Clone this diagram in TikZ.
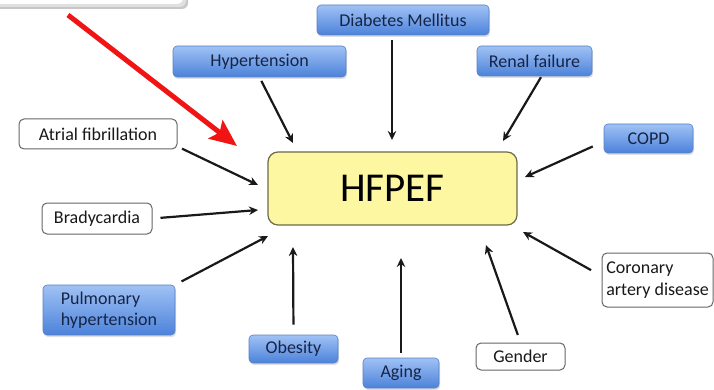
\documentclass[tikz,border=0pt]{standalone}
\usepackage{fontspec}
\setmainfont{Carlito}
\usepackage{tikz}
\usetikzlibrary{arrows.meta, shadows, calc}

\definecolor{boxblueT}{RGB}{160, 194, 245}
\definecolor{boxblueB}{RGB}{76, 130, 218}
\definecolor{boxblueD}{RGB}{88, 128, 196}
\definecolor{navytext}{RGB}{22, 36, 70}
\definecolor{hfyellow}{RGB}{252, 247, 160}
\definecolor{hfedge}{RGB}{110, 106, 70}
\definecolor{pointred}{RGB}{240, 20, 20}

\tikzset{
  riskblue/.style={rounded corners=4pt, draw=boxblueD, line width=0.6pt,
    top color=boxblueT, bottom color=boxblueB, text=navytext,
    drop shadow={opacity=0.25, shadow xshift=1pt, shadow yshift=-2pt},
    font=\fontsize{18}{21}\selectfont, inner sep=1pt},
  riskwhite/.style={rounded corners=5pt, draw=black!60, line width=1pt,
    fill=white, text=black!90, font=\fontsize{18}{21.5}\selectfont, inner sep=1pt},
  cause/.style={line width=2.2pt, black!90, -{Stealth[length=9pt, width=8.5pt]}},
  pointer/.style={line width=5pt, pointred, -{Stealth[length=27pt, width=23pt, inset=5pt]}}
}

\begin{document}
\begin{tikzpicture}[x=1pt, y=-1pt]
  \useasboundingbox (0,0) rectangle (714,390);

  % cut-off box at the top
  \fill[black!22, rounded corners=6pt] (-10,-30) rectangle (188,9);
  \fill[black!12, rounded corners=6pt] (-10,-30) rectangle (186,7);
  \fill[white, rounded corners=6pt] (-10,-30) rectangle (183,4);

  % centre
  \node[rounded corners=10pt, draw=hfedge, line width=1.2pt, fill=hfyellow,
        minimum width=249pt, minimum height=73pt,
        font=\fontsize{41}{45}\selectfont] (hfpef) at (392.5,188.5) {HFPEF};

  % blue risk factors
  \node[riskblue, minimum width=172pt, minimum height=30pt] (dm) at (403,20) {Diabetes Mellitus};
  \node[riskblue, minimum width=173pt, minimum height=31pt] (hyp) at (259.5,61.5) {Hypertension};
  \node[riskblue, minimum width=115pt, minimum height=30pt] (rf) at (534.5,61) {Renal failure};
  \node[riskblue, minimum width=89pt, minimum height=29pt] (copd) at (648.5,138.5) {COPD};
  \node[riskblue, minimum width=132pt, minimum height=50pt, align=left] (pulm) at (109,310) {Pulmonary\\hypertension};
  \node[riskblue, minimum width=89pt, minimum height=28pt] (ob) at (293.5,349) {Obesity};
  \node[riskblue, minimum width=76pt, minimum height=30pt] (aging) at (401,373) {Aging};

  % white risk factors
  \node[riskwhite, minimum width=158pt, minimum height=30pt] (af) at (98,134) {Atrial fibrillation};
  \node[riskwhite, minimum width=110pt, minimum height=31pt] (brady) at (97,218.5) {Bradycardia};
  \node[riskwhite, minimum width=89pt, minimum height=27pt] (gender) at (520.5,356.5) {Gender};
  \node[riskwhite, minimum width=111pt, minimum height=54pt, align=left] (cad) at (657.5,280) {Coronary\\artery disease};

  % arrow ends next to HFPEF
  \coordinate (tHyp) at (293,143);
  \coordinate (tDm) at (392,140);
  \coordinate (tRf) at (503,141);
  \coordinate (tCopd) at (525,177);
  \coordinate (tAf) at (258,185);
  \coordinate (tBrady) at (258,210);
  \coordinate (tPulm) at (268,236);
  \coordinate (tOb) at (293,247);
  \coordinate (tAging) at (401,258);
  \coordinate (tGender) at (486,245);
  \coordinate (tCad) at (523,232);

  \draw[cause, shorten <=4pt] (hyp.south) -- (tHyp);
  \draw[cause, shorten <=5pt] (dm.south -| tDm) -- (tDm);
  \draw[cause, shorten <=1pt] (rf.south) ++(7,0) -- (tRf);
  \draw[cause, shorten <=12pt] (copd.west) ++(0,3) -- (tCopd);
  \draw[cause, shorten <=5pt] (af.south east) ++(0,-3) -- (tAf);
  \draw[cause, shorten <=8pt] (brady.east) -- (tBrady);
  \draw[cause, shorten <=7pt] (pulm.north east) -- (tPulm);
  \draw[cause, shorten <=10pt] (ob.north) -- (tOb);
  \draw[cause, shorten <=5pt] (aging.north) -- (tAging);
  \draw[cause, shorten <=8pt] (gender.north) -- (tGender);
  \draw[cause, shorten <=12pt] (cad.west) ++(0,-4) -- (tCad);

  % red pointer
  \coordinate (pStart) at (68,15);
  \coordinate (pEnd) at (237,146);
  \draw[pointer] (pStart) -- (pEnd);
\end{tikzpicture}
\end{document}
